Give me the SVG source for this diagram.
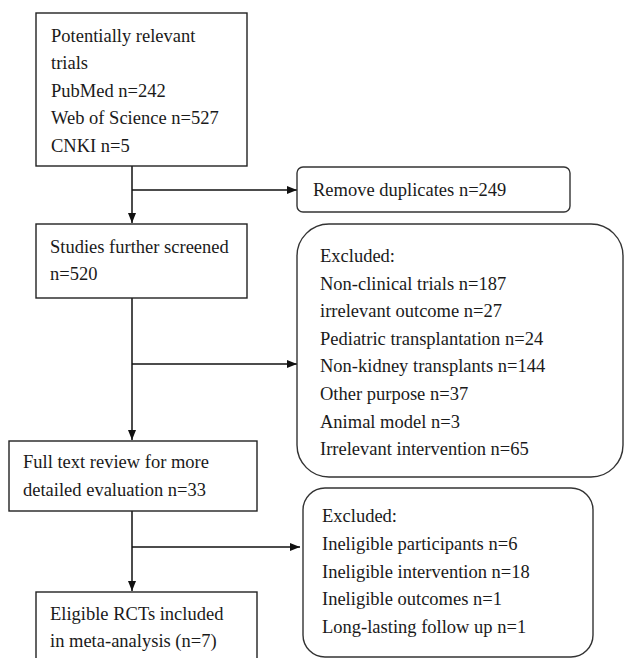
<svg xmlns="http://www.w3.org/2000/svg" width="624" height="658" viewBox="0 0 624 658">
<style>
.box{fill:#fff;stroke:#222;stroke-width:1.4}
.rbox{fill:#fff;stroke:#333;stroke-width:1.4}
.t{font-family:"Liberation Serif","Times New Roman",serif;font-size:18.5px;fill:#1a1a1a}
.c{stroke:#111;stroke-width:1.5;fill:none}
</style>
<defs>
<marker id="ah" markerWidth="10" markerHeight="8" refX="10" refY="4" orient="auto" markerUnits="userSpaceOnUse">
<path d="M0,0 L10,4 L0,8 Z" fill="#111"/>
</marker>
</defs>
<rect width="624" height="658" fill="#fff"/>
<g id="connectors">
<line class="c" x1="132" y1="166" x2="132" y2="223" marker-end="url(#ah)"/>
<line class="c" x1="132" y1="190" x2="297" y2="190" marker-end="url(#ah)"/>
<line class="c" x1="132" y1="298" x2="132" y2="440" marker-end="url(#ah)"/>
<line class="c" x1="132" y1="364" x2="297" y2="364" marker-end="url(#ah)"/>
<line class="c" x1="132" y1="511" x2="132" y2="591" marker-end="url(#ah)"/>
<line class="c" x1="132" y1="547" x2="300" y2="547" marker-end="url(#ah)"/>
</g>
<g id="n1">
<rect class="box" x="36" y="13" width="211" height="153"/>
<text class="t" x="51" y="41.5">Potentially relevant</text>
<text class="t" x="51" y="69">trials</text>
<text class="t" x="51" y="96.5">PubMed n=242</text>
<text class="t" x="51" y="124">Web of Science n=527</text>
<text class="t" x="51" y="151.5">CNKI n=5</text>
</g>
<g id="n2">
<rect class="rbox" x="297" y="167" width="273" height="45" rx="6"/>
<text class="t" x="313" y="196">Remove duplicates n=249</text>
</g>
<g id="n3">
<rect class="box" x="36" y="224" width="211" height="74"/>
<text class="t" x="50" y="252.5">Studies further screened</text>
<text class="t" x="50" y="280">n=520</text>
</g>
<g id="n4">
<rect class="rbox" x="297" y="224" width="326" height="253" rx="32"/>
<text class="t" x="320" y="262">Excluded:</text>
<text class="t" x="320" y="289.5">Non-clinical trials n=187</text>
<text class="t" x="320" y="317">irrelevant outcome n=27</text>
<text class="t" x="320" y="344.5">Pediatric transplantation n=24</text>
<text class="t" x="320" y="372">Non-kidney transplants n=144</text>
<text class="t" x="320" y="400">Other purpose n=37</text>
<text class="t" x="320" y="427.5">Animal model n=3</text>
<text class="t" x="320" y="455">Irrelevant intervention n=65</text>
</g>
<g id="n5">
<rect class="box" x="9" y="441" width="248" height="70"/>
<text class="t" x="23" y="468">Full text review for more</text>
<text class="t" x="23" y="495.5">detailed evaluation n=33</text>
</g>
<g id="n6">
<rect class="rbox" x="303" y="488" width="290" height="169" rx="22"/>
<text class="t" x="322" y="522">Excluded:</text>
<text class="t" x="322" y="550">Ineligible participants n=6</text>
<text class="t" x="322" y="577.5">Ineligible intervention n=18</text>
<text class="t" x="322" y="605">Ineligible outcomes n=1</text>
<text class="t" x="322" y="633">Long-lasting follow up n=1</text>
</g>
<g id="n7">
<rect class="box" x="36" y="592" width="221" height="80"/>
<text class="t" x="50" y="620">Eligible RCTs included</text>
<text class="t" x="50" y="647">in meta-analysis (n=7)</text>
</g>
</svg>
